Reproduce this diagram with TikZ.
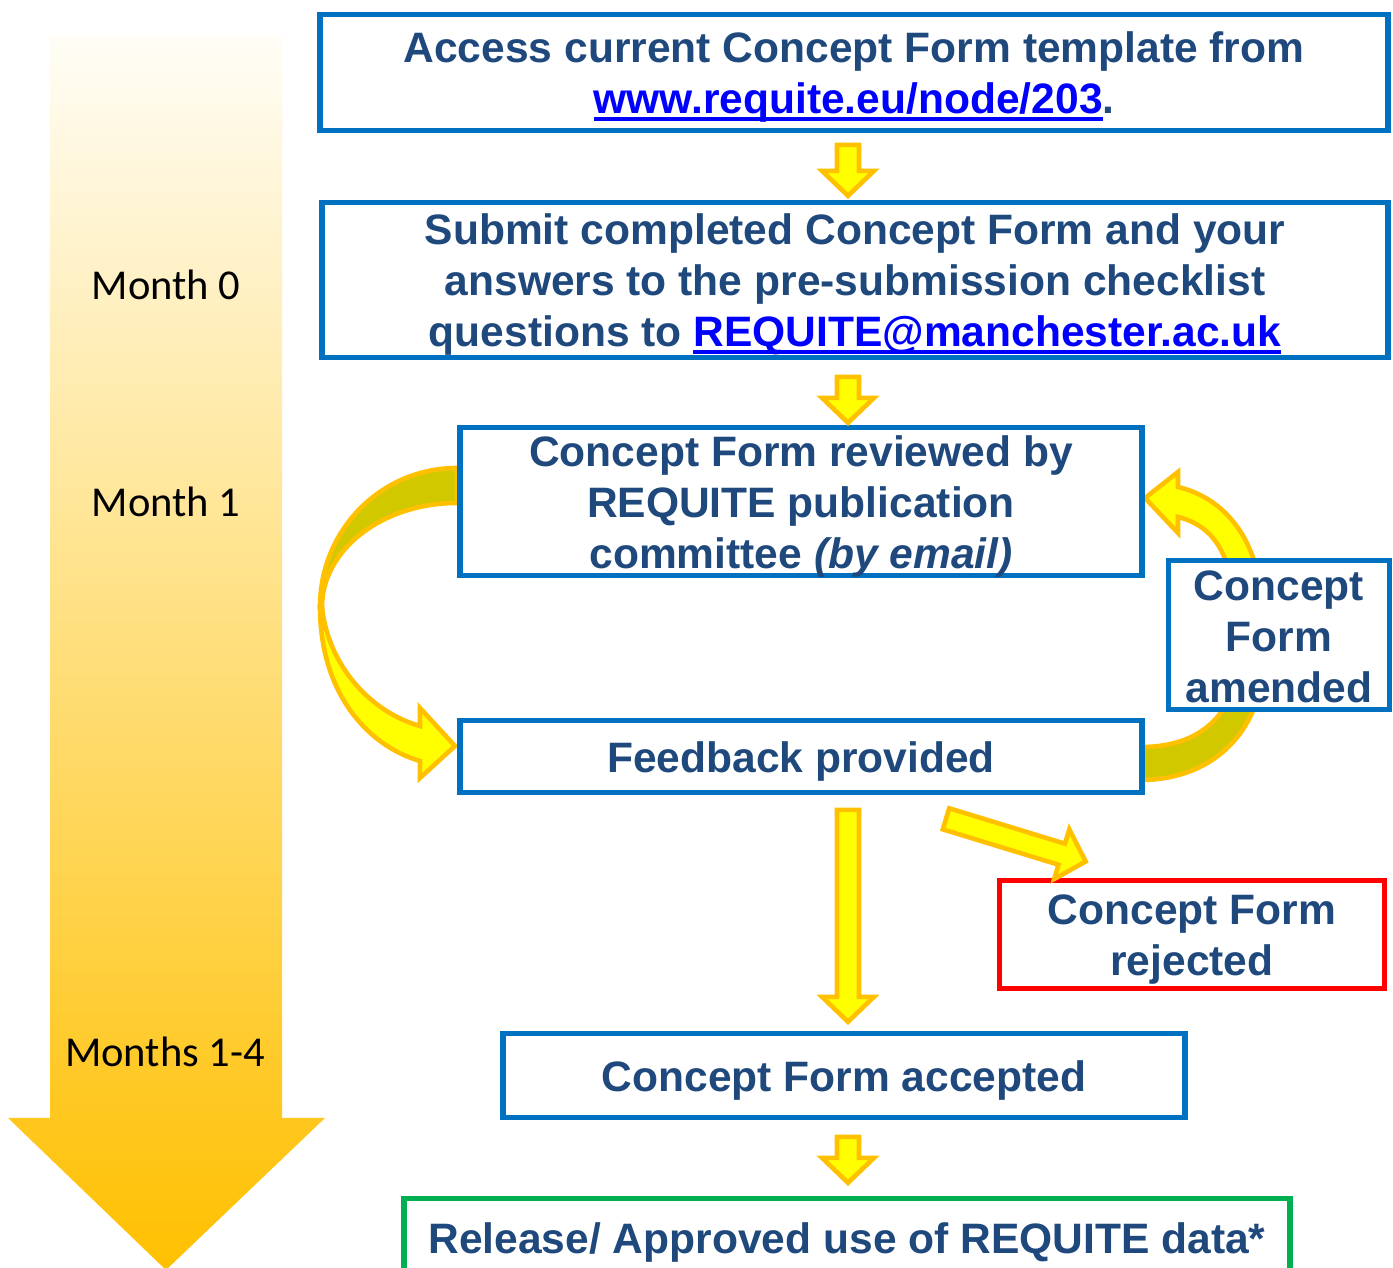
\documentclass[tikz,border=0pt]{standalone}
\usepackage{fontspec}
\setmainfont{Liberation Sans}
\newfontfamily\calibfont{Carlito}
\usetikzlibrary{calc}

\definecolor{boxblue}{HTML}{0070C0}
\definecolor{txtblue}{HTML}{1F497D}
\definecolor{linkblue}{HTML}{0000FF}
\definecolor{rejectred}{HTML}{FF0000}
\definecolor{okgreen}{HTML}{00B050}
\definecolor{arrowfill}{HTML}{FFFF00}
\definecolor{arrowline}{HTML}{FFC000}
\definecolor{arrowdark}{HTML}{D2C800}
\definecolor{timetop}{HTML}{FFFDF6}
\definecolor{timebottom}{HTML}{FFC000}

\pgfdeclarelayer{background}
\pgfsetlayers{background,main}

\newcommand{\weblink}[1]{\textcolor{linkblue}{\setbox0\hbox{#1}\rlap{\rule[-0.16em]{\wd0}{0.08em}}\box0}}

\tikzset{
  stepbox/.style={draw=boxblue, line width=1.6pt, fill=white, inner sep=0pt},
  steptext/.style={align=center, inner sep=0pt, text=txtblue, yshift=-0.05cm,
    font=\fontsize{12.1}{14.5}\selectfont\bfseries},
  month/.style={font=\calibfont\fontsize{12.1}{14.5}\selectfont, text=black},
  blockarrow/.style={fill=arrowfill, draw=arrowline, line width=1.3pt},
  downarrow/.pic={\path[blockarrow] (-11,0) -- (11,0) -- (11,#1-25) -- (26,#1-25)
    -- (0,#1) -- (-26,#1-25) -- (-11,#1-25) -- cycle;}
}

\begin{document}
\begin{tikzpicture}[x=0.01cm, y=-0.01cm]
  \useasboundingbox (0,0) rectangle (1393,1268);
  \clip (0,0) rectangle (1393,1268);

  % steps
  \node[stepbox, minimum width=10.67cm, minimum height=1.16cm,
    label={[steptext]center:Access current Concept Form template from\\\weblink{www.requite.eu/node/203}.}]
    (access) at (854,72.5) {};
  \node[stepbox, minimum width=10.65cm, minimum height=1.55cm,
    label={[steptext]center:Submit completed Concept Form and your\\answers to the pre-submission checklist\\questions to \weblink{REQUITE@manchester.ac.uk}}]
    (submit) at (855,280) {};
  \node[stepbox, minimum width=6.81cm, minimum height=1.48cm,
    label={[steptext]center:Concept Form reviewed by\\REQUITE publication\\committee \textit{(by email)}}]
    (review) at (801,501.5) {};
  \node[stepbox, minimum width=6.81cm, minimum height=0.72cm,
    label={[steptext]center:Feedback provided}]
    (feedback) at (801,756.5) {};
  \node[stepbox, minimum width=2.21cm, minimum height=1.49cm,
    label={[steptext, yshift=0.035cm]center:Concept\\Form\\amended}]
    (amend) at (1279,635) {};
  \node[stepbox, draw=rejectred, minimum width=3.85cm, minimum height=1.08cm,
    label={[steptext]center:Concept Form\\rejected}]
    (reject) at (1192,934.5) {};
  \node[stepbox, minimum width=6.81cm, minimum height=0.84cm,
    label={[steptext]center:Concept Form accepted}]
    (accept) at (844,1075.5) {};
  \node[stepbox, draw=okgreen, minimum width=8.85cm, minimum height=0.79cm,
    label={[steptext]center:Release/ Approved use of REQUITE data*}]
    (release) at (847,1238) {};

  % months
  \node[month] (m0) at (166,285) {Month 0};
  \node[month] (m1) at (166,502) {Month 1};
  \node[month] (m14) at (165,1052) {Months 1-4};

  % block arrows between the steps
  \pic at ($(access.south)+(-6,11.5)$) {downarrow=51};
  \pic at ($(submit.south)+(-7,16.5)$) {downarrow=46};
  \pic at ($(feedback.south)+(47,14.5)$) {downarrow=212};
  \pic[rotate=73] at ($(feedback.south)+(145,23.5)$) {downarrow=146};
  \pic at ($(accept.south)+(4,16.5)$) {downarrow=46};

  \begin{pgfonlayer}{background}
    % time line
    \shade[top color=timetop, bottom color=timebottom] (50,35) -- (282,35) -- (282,1118)
      -- (325,1118) -- (166,1270) -- (8,1118) -- (50,1118) -- cycle;
    % review -> feedback
    \path[blockarrow, fill=arrowdark] (457,468) .. controls (381,468) and (320,530) .. (320,607)
      -- (322,607) .. controls (322,550) and (382,503) .. (457,503) -- cycle;
    \path[blockarrow] (320,607) .. controls (320,690) and (365,745) .. (420,761)
      -- (420,778) -- (455,746) -- (420,708) -- (420,726)
      .. controls (370,712) and (328,665) .. (322,607) -- cycle;
    % feedback -> amended -> review
    \path[blockarrow, fill=arrowdark] (1141,747) -- (1141,780) .. controls (1195,780) and (1240,752) .. (1257,700)
      -- (1229,700) .. controls (1213,730) and (1185,747) .. (1141,747) -- cycle;
    \path[blockarrow] (1258,575) .. controls (1248,530) and (1220,497) .. (1178,487)
      -- (1178,472) -- (1145,498) -- (1178,533) -- (1178,517)
      .. controls (1203,523) and (1222,540) .. (1230,575) -- cycle;
  \end{pgfonlayer}
\end{tikzpicture}
\end{document}
